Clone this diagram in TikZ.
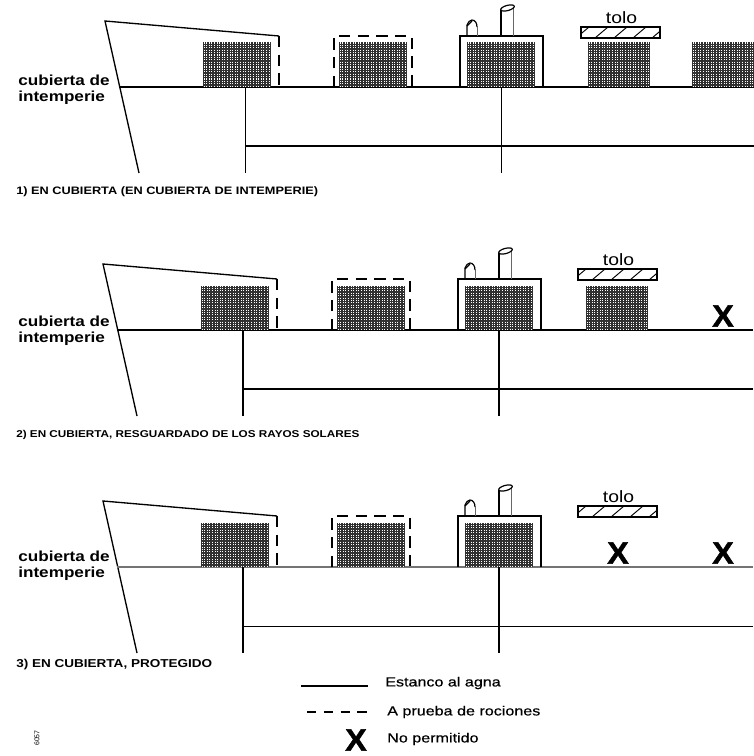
\documentclass[tikz,border=0pt]{standalone}
\usepackage{fontspec}
\setmainfont{Liberation Sans}
\newfontfamily\widefont[FakeStretch=1.18]{Liberation Sans}
\newfontfamily\legendfont[FakeStretch=1.22,FakeBold=0.5]{Liberation Sans}
\newfontfamily\heavyfont[BoldFont={Liberation Sans Bold},BoldFeatures={FakeBold=1.5,FakeStretch=1.05}]{Liberation Sans}
\usetikzlibrary{calc}
\definecolor{cargoink}{HTML}{303030}
\tikzset{
  px/.style={x=0.75pt,y=-0.75pt},
  hull/.style={line width=1.1pt,black},
  bowline/.style={line width=1pt,black},
  splash/.style={line width=1.2pt,black,dash pattern=on 8.5pt off 5.5pt},
  house/.style={line width=1.4pt,black},
  ventline/.style={line width=0.9pt,black},
  ventlight/.style={line width=0.6pt,black!60},
  tarp/.style={line width=1pt,black,fill=white},
  tarphatch/.style={line width=0.7pt,black},
  deckword/.style={font=\widefont\bfseries\fontsize{10.9}{12}\selectfont,anchor=west,align=left,inner sep=0pt},
  tolotext/.style={font=\widefont\fontsize{12.3}{13}\selectfont,inner sep=0pt},
  caption/.style={font=\widefont\bfseries\fontsize{#1}{8}\selectfont,anchor=west,inner sep=0pt},
  legendtext/.style={font=\legendfont\fontsize{9.9}{11}\selectfont,anchor=west,inner sep=0pt},
  banned/.style={font=\heavyfont\bfseries\fontsize{23}{24}\selectfont,inner sep=0pt},
}
\newcommand\cargoblock[2]{%
  \fill[cargoink] (#1,-44.5) rectangle (#2,0);
  \foreach \cx in {0,2.6,...,68}{%
    \pgfmathsetmacro\cxx{#1+1+\cx}%
    \pgfmathparse{\cxx<#2?1:0}%
    \ifnum\pgfmathresult=1
      \draw[white,line width=0.55pt,dash pattern=on 0.8pt off 1pt] (\cxx,-44.5) -- (\cxx,0);
    \fi
  }%
}
\newcommand\shippanel[5]{%
\begin{scope}[shift={(#1,#2)}]
  \coordinate (bt) at (103,-66);
  \coordinate (br) at (277,-51);
  \coordinate (bb) at (137,86);
  \draw[bowline] (br) -- (bt) -- (bb);
  \draw[splash] (br) -- (277,0);
  \draw[#3] (117,0) -- (753,0);
  \draw[line width=#4] (243,0) -- (243,86);
  \draw[line width=#4] (499,0) -- (499,86);
  \draw[line width=#5] (243,59) -- (753,59);
  \draw[splash] (332,0) -- (332,-51) -- (410,-51) -- (410,0);
  \draw[house] (458,0) -- (458,-51) -- (541,-51) -- (541,0);
  \draw[ventline] (465,-51) -- (465,-62) .. controls (466,-65) and (468,-67) .. (470,-67) .. controls (473,-67) and (475,-64) .. (475,-60);
  \draw[ventlight] (475,-60) -- (475,-51);
  \draw[ventline] (465,-61) -- (470,-66);
  \draw[line width=1.1pt] (499,-51) -- (499,-77);
  \draw[ventlight] (511,-51) -- (511,-79);
  \draw[ventline,rotate around={15:(505.5,-79)}] (505.5,-79) ellipse (7 and 2.6);
  \cargoblock{201}{269}
  \cargoblock{337}{405}
  \cargoblock{465}{533}
\end{scope}}
\newcommand\tarpaulin[2]{%
\begin{scope}[shift={(#1,#2)}]
  \node[tolotext] (tolotag#2) at (618.5,-70.5) {tolo};
  \draw[tarp] (578,-61) rectangle (657,-50);
  \begin{scope}
    \clip (578,-61) rectangle (657,-50);
    \foreach \hx in {573,592,611,630,649}
      \draw[tarphatch] (\hx,-50) -- (\hx+13,-61);
  \end{scope}
\end{scope}}
\begin{document}
\begin{tikzpicture}[px]
\useasboundingbox (0,0) rectangle (753,756);
\fill[white] (0,0) rectangle (753,756);

% ---- panel 1
\shippanel{2}{87}{hull}{0.75pt}{1.1pt}
\tarpaulin{3}{88}
\begin{scope}[shift={(2,87)}]
  \cargoblock{586}{648}
  \cargoblock{690}{753}
\end{scope}
\node[deckword] (d1) at (18,89.5) {cubierta de\\intemperie};
\node[caption=8.1] (c1) at (16,192) {1) EN CUBIERTA (EN CUBIERTA DE INTEMPERIE)};

% ---- panel 2
\shippanel{0}{330}{hull}{1.4pt}{1.1pt}
\tarpaulin{0}{330}
\begin{scope}[shift={(0,330)}]
  \cargoblock{586}{648}
\end{scope}
\node[banned] (x2) at (723,316) {X};
\node[deckword] (d2) at (18,331) {cubierta de\\intemperie};
\node[caption=7.45] (c2) at (16,435) {2) EN CUBIERTA, RESGUARDADO DE LOS RAYOS SOLARES};

% ---- panel 3
\shippanel{0}{567}{line width=0.9pt,black!55}{1.4pt}{0.65pt}
\tarpaulin{0}{567}
\node[banned] (x3a) at (618,553) {X};
\node[banned] (x3b) at (723,553) {X};
\node[deckword] (d3) at (18,566) {cubierta de\\intemperie};
\node[caption=8.6] (c3) at (16,665) {3) EN CUBIERTA, PROTEGIDO};

% ---- legend
\coordinate (la) at (301,686);
\coordinate (lb) at (368,686);
\coordinate (lc) at (307,712);
\coordinate (ld) at (368,712);
\draw[line width=0.9pt] (la) -- (lb);
\draw[line width=0.9pt,dash pattern=on 7pt off 5.6pt] (lc) -- (ld);
\node[legendtext] (l1) at (385,683) {Estanco al agna};
\node[legendtext] (l2) at (387,712) {A prueba de rociones};
\node[banned] (l3x) at (356,740) {X};
\node[legendtext] (l3) at (387,739) {No permitido};
\node[font=\fontsize{5.2}{6}\selectfont,rotate=90,inner sep=0pt] (code) at (37,738) {6057};
\end{tikzpicture}
\end{document}
